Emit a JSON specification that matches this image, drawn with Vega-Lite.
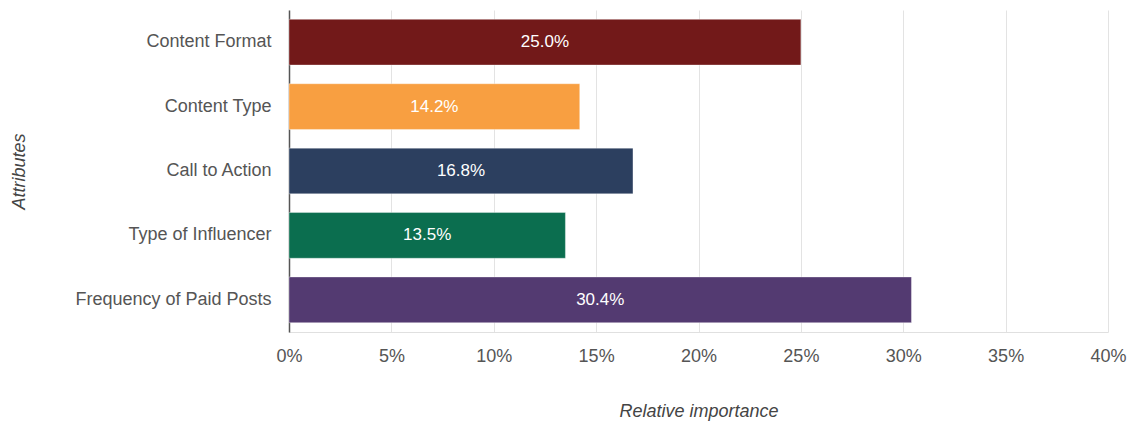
{
  "$schema": "https://vega.github.io/schema/vega-lite/v6.json",
  "autosize": "none",
  "padding": {"left": 289, "top": 10, "right": 26, "bottom": 96},
  "width": 819,
  "height": 322,
  "background": "white",
  "config": {
    "view": {"stroke": null},
    "font": "Liberation Sans"
  },
  "data": {
    "values": [
      {"attribute": "Content Format", "importance": 0.250, "label": "25.0%"},
      {"attribute": "Content Type", "importance": 0.142, "label": "14.2%"},
      {"attribute": "Call to Action", "importance": 0.168, "label": "16.8%"},
      {"attribute": "Type of Influencer", "importance": 0.135, "label": "13.5%"},
      {"attribute": "Frequency of Paid Posts", "importance": 0.304, "label": "30.4%"}
    ]
  },
  "encoding": {
    "y": {
      "field": "attribute",
      "type": "nominal",
      "sort": null,
      "scale": {"paddingInner": 0.29, "paddingOuter": 0.145},
      "axis": {
        "title": "Attributes",
        "titleFont": "Liberation Sans",
        "titleFontSize": 18,
        "titleFontStyle": "italic",
        "titleFontWeight": "normal",
        "titleColor": "#444444",
        "titlePadding": 61,
        "labelFontSize": 18,
        "labelColor": "#555555",
        "labelPadding": 18,
        "labelLimit": 400,
        "ticks": false,
        "domainColor": "#555555",
        "domainWidth": 1.5,
        "grid": false
      }
    }
  },
  "layer": [
    {
      "mark": {"type": "bar", "stroke": "white", "strokeOpacity": 0.35, "strokeWidth": 1},
      "encoding": {
        "x": {
          "field": "importance",
          "type": "quantitative",
          "scale": {"domain": [0, 0.4]},
          "axis": {
            "title": "Relative importance",
            "titleFont": "Liberation Sans",
            "titleFontSize": 18,
            "titleFontStyle": "italic",
            "titleFontWeight": "normal",
            "titleColor": "#444444",
            "titlePadding": 37,
            "format": ".0%",
            "values": [0, 0.05, 0.1, 0.15, 0.2, 0.25, 0.3, 0.35, 0.4],
            "labelFontSize": 18,
            "labelColor": "#555555",
            "labelPadding": 15,
            "labelOverlap": false,
            "labelFlush": false,
            "ticks": false,
            "domain": true,
            "domainColor": "#e0e0e0",
            "grid": true,
            "gridColor": "#e3e3e3",
            "gridWidth": 1
          }
        },
        "color": {
          "field": "attribute",
          "type": "nominal",
          "legend": null,
          "scale": {
            "domain": ["Content Format", "Content Type", "Call to Action", "Type of Influencer", "Frequency of Paid Posts"],
            "range": ["#721919", "#F89F41", "#2C3F5F", "#0B6E4F", "#533A71"]
          }
        }
      }
    },
    {
      "transform": [{"calculate": "datum.importance / 2", "as": "mid"}],
      "mark": {"type": "text", "color": "white", "fontSize": 17, "align": "center", "baseline": "middle"},
      "encoding": {
        "x": {"field": "mid", "type": "quantitative"},
        "text": {"field": "label"}
      }
    }
  ]
}
